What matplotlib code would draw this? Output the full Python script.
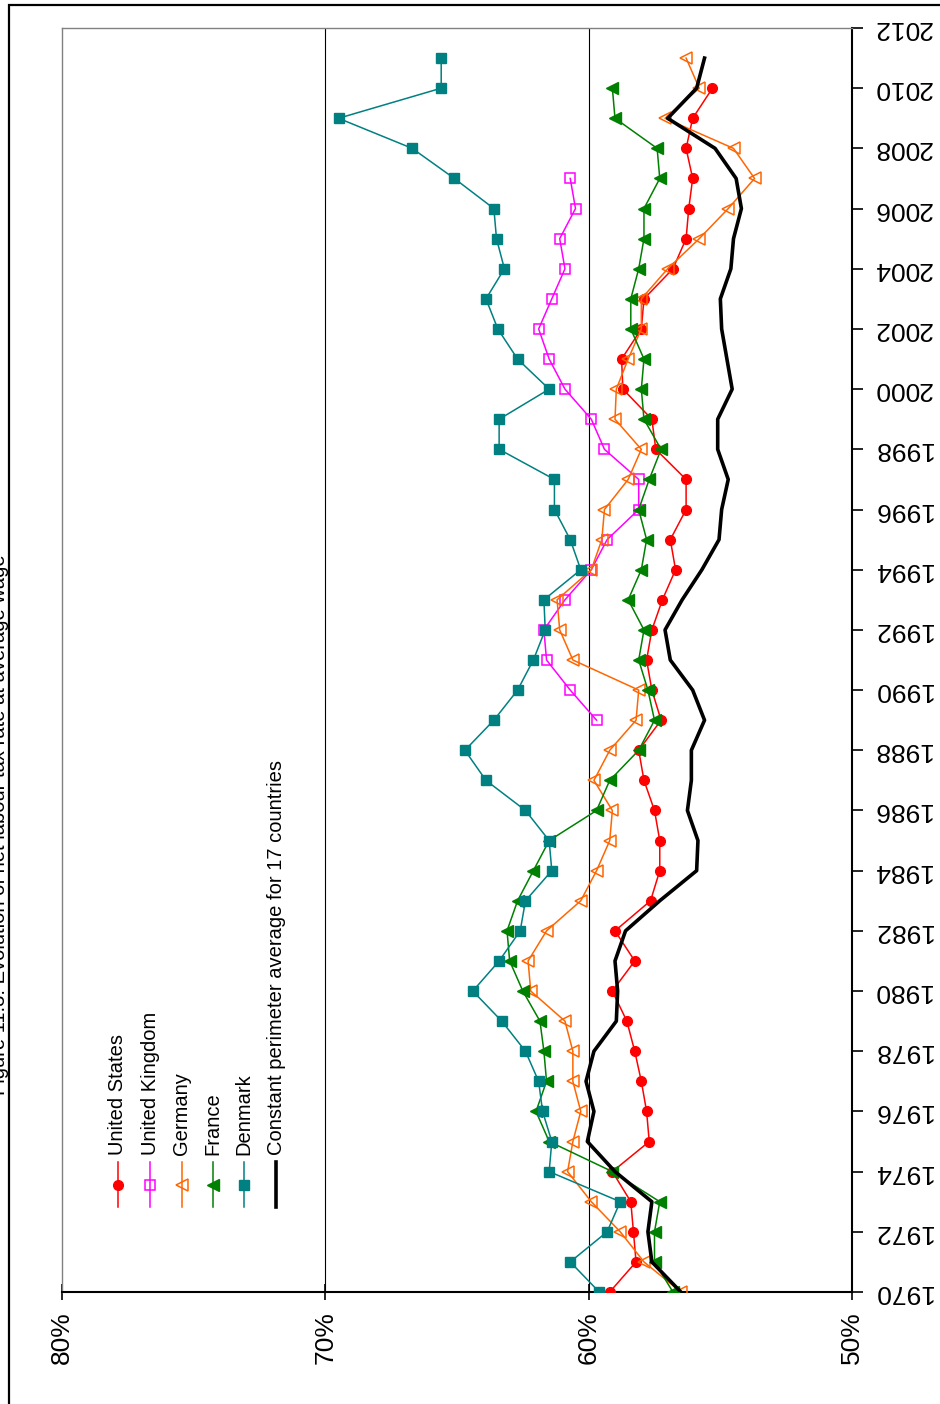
import matplotlib
matplotlib.use("Agg")
import matplotlib.pyplot as plt
from matplotlib.lines import Line2D
from matplotlib.patches import Rectangle

plt.rcParams['font.family'] = ['Liberation Sans', 'DejaVu Sans']

# ---------------- data ----------------
years_all = list(range(1970, 2012))          # 1970..2011
years_to2010 = list(range(1970, 2011))       # 1970..2010
years_uk = list(range(1989, 2008))           # 1989..2007

us = [59.2, 58.2, 58.3, 58.4, 59.1, 57.7, 57.8, 58.0, 58.25, 58.55,
      59.1, 58.25, 59.0, 57.65, 57.3, 57.3, 57.5, 57.9, 58.1, 57.25,
      57.6, 57.8, 57.6, 57.2, 56.7, 56.9, 56.3, 56.3, 57.45, 57.6,
      58.7, 58.75, 58.0, 57.9, 56.8, 56.3, 56.2, 56.05, 56.3, 56.05,
      55.3]

uk = [59.7, 60.7, 61.6, 61.7, 60.9, 59.9, 59.3, 58.1, 58.1, 59.4,
      59.9, 60.9, 61.5, 61.9, 61.4, 60.9, 61.1, 60.5, 60.7]

germany = [56.5, 57.9, 58.8, 59.9, 60.8, 60.6, 60.3, 60.6, 60.6, 60.9,
           62.2, 62.3, 61.6, 60.3, 59.7, 59.2, 59.1, 59.8, 59.2, 58.2,
           58.1, 60.6, 61.1, 61.2, 59.9, 59.5, 59.4, 58.5, 58.0, 59.0,
           58.95, 58.5, 58.0, 58.0, 57.0, 55.8, 54.7, 53.7, 54.5, 57.1,
           55.8, 56.3]

france = [56.8, 57.5, 57.5, 57.3, 59.1, 61.5, 62.0, 61.6, 61.7, 61.85,
          62.5, 63.0, 63.1, 62.7, 62.1, 61.5, 59.7, 59.2, 58.1, 57.5,
          57.75, 58.1, 57.9, 58.5, 58.0, 57.8, 58.1, 57.7, 57.25, 57.9,
          58.0, 57.9, 58.4, 58.4, 58.1, 57.9, 57.9, 57.3, 57.4, 59.0,
          59.1]

denmark = [59.6, 60.7, 59.3, 58.8, 61.5, 61.4, 61.75, 61.9, 62.4, 63.3,
           64.4, 63.4, 62.6, 62.4, 61.4, 61.5, 62.4, 63.9, 64.7, 63.6,
           62.7, 62.1, 61.65, 61.7, 60.3, 60.7, 61.3, 61.3, 63.4, 63.4,
           61.5, 62.7, 63.45, 63.9, 63.2, 63.5, 63.6, 65.1, 66.7, 69.5,
           65.6, 65.6]

average17 = [56.5, 57.6, 57.75, 57.6, 59.0, 60.05, 59.8, 60.1, 59.8, 58.95,
             58.9, 59.0, 58.6, 57.3, 55.9, 55.85, 56.25, 56.1, 56.1, 55.6,
             56.05, 56.9, 57.1, 56.45, 55.7, 55.05, 54.95, 54.7, 55.1, 55.1,
             54.55, 54.75, 54.95, 55.0, 54.6, 54.5, 54.2, 54.4, 55.2, 57.0,
             55.9, 55.6]

pct_ticks = [80, 70, 60, 50]
pct_labels = ['80%', '70%', '60%', '50%']
year_ticks = list(range(1970, 2013, 2))
year_labels = [str(y) for y in year_ticks]

legend_names = ['United States', 'United Kingdom', 'Germany', 'France',
                'Denmark', 'Constant perimeter average for 17 countries']
title_text = 'Figure 11.3: Evolution of net labour tax rate at average wage'

# ---------------- figure ----------------
W, H = 940, 1404
fig = plt.figure(figsize=(W / 100, H / 100), dpi=100)
fig.patch.set_facecolor('white')

def fx(px):
    return px / W

def fy(py):
    return 1 - py / H

ax = fig.add_axes([fx(62), fy(1292), (852 - 62) / W, (1292 - 28) / H])
ax.set_xlim(80, 50)
ax.set_ylim(1970, 2012)

for v in (60, 70):
    ax.axvline(v, color='black', lw=0.8, zorder=1)

styles = {
    'us': dict(color='#FF0000', marker='o', ms=7, mfc='#FF0000', mec='#FF0000'),
    'uk': dict(color='#FF00FF', marker='s', ms=6.5, mfc='none', mec='#FF00FF', mew=1.1),
    'de': dict(color='#FF6600', marker='<', ms=8, mfc='none', mec='#FF6600', mew=1.1),
    'fr': dict(color='#008000', marker='<', ms=8, mfc='#008000', mec='#008000'),
    'dk': dict(color='#008080', marker='s', ms=6.5, mfc='#008080', mec='#008080'),
}
lw = 1.1
ax.plot(us, years_to2010, lw=lw, zorder=3, **styles['us'])
ax.plot(uk, years_uk, lw=lw, zorder=3, **styles['uk'])
ax.plot(germany, years_all, lw=lw, zorder=3, **styles['de'])
ax.plot(france, years_to2010, lw=lw, zorder=3, **styles['fr'])
ax.plot(denmark, years_all, lw=lw, zorder=3, **styles['dk'])
ax.plot(average17, years_all, color='black', lw=2.6, zorder=4,
        solid_joinstyle='round')

# spines
for s in ('left', 'top'):
    ax.spines[s].set_color('#808080')
    ax.spines[s].set_linewidth(1.0)
for s in ('right', 'bottom'):
    ax.spines[s].set_color('black')
    ax.spines[s].set_linewidth(1.5)

ax.set_xticks(pct_ticks)
ax.set_xticklabels(pct_labels, rotation=90, fontsize=19)
ax.tick_params(axis='x', direction='inout', length=12, width=1.2, pad=8)
for lab in ax.get_xticklabels():
    lab.set_va('top')
    lab.set_ha('center')

ax.yaxis.tick_right()
ax.set_yticks(year_ticks)
ax.set_yticklabels(year_labels, rotation=180, fontsize=19)
ax.tick_params(axis='y', direction='out', length=8, width=1.2, pad=7,
               left=False, right=True)
for lab in ax.get_yticklabels():
    lab.set_ha('left')
    lab.set_va('center')

# ---------------- legend (rotated, drawn manually) ----------------
leg_x = [118, 150, 182, 213, 244, 276]
keys = ['us', 'uk', 'de', 'fr', 'dk', None]
for x, key, name in zip(leg_x, keys, legend_names):
    if key is None:
        fig.add_artist(Line2D([fx(x), fx(x)], [fy(1162), fy(1207)],
                              transform=fig.transFigure, color='black', lw=2.6))
    else:
        st = styles[key]
        fig.add_artist(Line2D([fx(x), fx(x)], [fy(1162), fy(1207)],
                              transform=fig.transFigure, color=st['color'], lw=lw))
        mk = dict(st)
        col = mk.pop('color')
        fig.add_artist(Line2D([fx(x)], [fy(1185)], transform=fig.transFigure,
                              color=col, ls='none', **mk))
    fig.text(fx(x), fy(1155), name, rotation=90, ha='center', va='bottom',
             fontsize=14.5, color='black')

# ---------------- title (clipped at left edge) ----------------
fig.text(fx(9), fy(1095), title_text, rotation=90, ha='right', va='bottom',
         fontsize=14.5, color='black')

# ---------------- outer frame ----------------
fig.add_artist(Rectangle((fx(9), fy(1420)), (W + 20 - 9) / W, (1420 - 5) / H,
                         transform=fig.transFigure, fill=False,
                         edgecolor='black', lw=1.6))

fig.savefig('out.png', dpi=100, facecolor='white')
